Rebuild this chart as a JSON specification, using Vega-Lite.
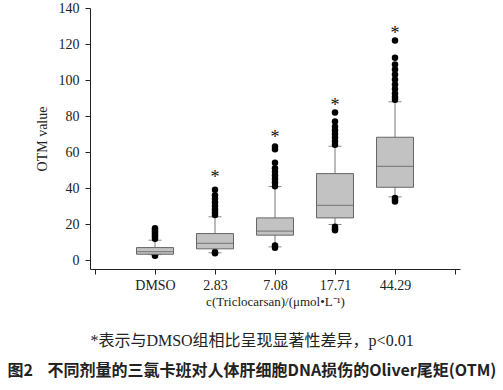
{
  "$schema": "https://vega.github.io/schema/vega-lite/v6.json",
  "width": 370,
  "height": 261,
  "autosize": {"type": "none"},
  "padding": {"left": 90, "top": 8, "right": 43, "bottom": 121},
  "background": "white",
  "config": {
    "view": {"stroke": null},
    "axis": {
      "grid": false,
      "domainColor": "#222",
      "tickColor": "#222",
      "labelColor": "#222",
      "titleColor": "#222",
      "labelFont": "Liberation Serif",
      "titleFont": "Liberation Serif",
      "labelFontSize": 14,
      "titleFontWeight": "normal",
      "tickSize": 5,
      "labelOverlap": false
    }
  },
  "title": {
    "text": "*表示与DMSO组相比呈现显著性差异，p<0.01",
    "subtitle": "图2\u00a0\u00a0\u00a0\u00a0不同剂量的三氯卡班对人体肝细胞DNA损伤的Oliver尾矩(OTM)",
    "orient": "bottom",
    "anchor": "middle",
    "frame": "group",
    "dx": -23,
    "offset": 25,
    "font": "'Liberation Serif', 'Noto Sans CJK SC'",
    "fontSize": 16,
    "fontWeight": "normal",
    "color": "#222",
    "subtitleFont": "'Noto Sans CJK SC'",
    "subtitleFontSize": 16,
    "subtitleFontWeight": "bold",
    "subtitleColor": "#222",
    "subtitlePadding": 14
  },
  "datasets": {
    "boxes": [
      {"x": 1, "label": "DMSO", "lower": 3, "q1": 3.2, "median": 4.7, "q3": 6.9, "upper": 11, "star": null},
      {"x": 2, "label": "2.83", "lower": 4, "q1": 6.2, "median": 9.2, "q3": 14.7, "upper": 24, "star": 48},
      {"x": 3, "label": "7.08", "lower": 7.3, "q1": 13.8, "median": 16, "q3": 23.4, "upper": 40.8, "star": 70},
      {"x": 4, "label": "17.71", "lower": 19.7, "q1": 23.4, "median": 30.3, "q3": 48, "upper": 63.2, "star": 88},
      {"x": 5, "label": "44.29", "lower": 35.1, "q1": 40.4, "median": 52, "q3": 68.2, "upper": 87.9, "star": 128}
    ],
    "outliers": [
      {"x": 1, "v": 11.8}, {"x": 1, "v": 12.8}, {"x": 1, "v": 13.8}, {"x": 1, "v": 14.8}, {"x": 1, "v": 15.8}, {"x": 1, "v": 16.8}, {"x": 1, "v": 17.6},
      {"x": 1, "v": 2.3}, {"x": 1, "v": 2.8},
      {"x": 2, "v": 25}, {"x": 2, "v": 26.5}, {"x": 2, "v": 28}, {"x": 2, "v": 30}, {"x": 2, "v": 32}, {"x": 2, "v": 34}, {"x": 2, "v": 36}, {"x": 2, "v": 39},
      {"x": 2, "v": 3.8}, {"x": 2, "v": 4.5},
      {"x": 3, "v": 41}, {"x": 3, "v": 43}, {"x": 3, "v": 45}, {"x": 3, "v": 47}, {"x": 3, "v": 49}, {"x": 3, "v": 51}, {"x": 3, "v": 54}, {"x": 3, "v": 61.5}, {"x": 3, "v": 63},
      {"x": 3, "v": 6.8}, {"x": 3, "v": 8},
      {"x": 4, "v": 64}, {"x": 4, "v": 66}, {"x": 4, "v": 68}, {"x": 4, "v": 70}, {"x": 4, "v": 72}, {"x": 4, "v": 74}, {"x": 4, "v": 77}, {"x": 4, "v": 82},
      {"x": 4, "v": 16.5}, {"x": 4, "v": 17.5}, {"x": 4, "v": 18.5},
      {"x": 5, "v": 89}, {"x": 5, "v": 90.5}, {"x": 5, "v": 92.5}, {"x": 5, "v": 95}, {"x": 5, "v": 97.5}, {"x": 5, "v": 100.3}, {"x": 5, "v": 103}, {"x": 5, "v": 105.8}, {"x": 5, "v": 108.6}, {"x": 5, "v": 112.3}, {"x": 5, "v": 122},
      {"x": 5, "v": 32.5}, {"x": 5, "v": 33.5}, {"x": 5, "v": 34.5}
    ]
  },
  "layer": [
    {
      "data": {"name": "boxes"},
      "mark": {"type": "rule", "color": "#777", "strokeWidth": 1},
      "encoding": {
        "x": {
          "field": "x", "type": "quantitative",
          "scale": {"domain": [0, 6], "nice": false, "zero": false},
          "axis": {
            "values": [0, 1, 2, 3, 4, 5, 6],
            "tickCount": 12,
            "labelExpr": "datum.value == 1 ? 'DMSO' : datum.value == 2 ? '2.83' : datum.value == 3 ? '7.08' : datum.value == 4 ? '17.71' : datum.value == 5 ? '44.29' : ''",
            "labelPadding": 4,
            "labelFlush": false,
            "labelOverlap": false,
            "title": "c(Triclocarsan)/(μmol•L⁻¹)",
            "titleFontSize": 13,
            "titlePadding": 3
          }
        },
        "y": {
          "field": "lower", "type": "quantitative",
          "scale": {"domain": [-5, 140], "nice": false, "zero": false},
          "axis": {
            "values": [0, 20, 40, 60, 80, 100, 120, 140],
            "tickCount": 12,
            "labelPadding": 6,
            "labelFlush": false,
            "labelOverlap": false,
            "title": "OTM value",
            "titleFontSize": 14,
            "titlePadding": 9
          }
        },
        "y2": {"field": "upper"}
      }
    },
    {
      "data": {"name": "boxes"},
      "mark": {"type": "tick", "orient": "horizontal", "color": "#555", "size": 13, "thickness": 1},
      "encoding": {
        "x": {"field": "x", "type": "quantitative"},
        "y": {"field": "lower", "type": "quantitative"}
      }
    },
    {
      "data": {"name": "boxes"},
      "mark": {"type": "tick", "orient": "horizontal", "color": "#555", "size": 13, "thickness": 1},
      "encoding": {
        "x": {"field": "x", "type": "quantitative"},
        "y": {"field": "upper", "type": "quantitative"}
      }
    },
    {
      "data": {"name": "outliers"},
      "mark": {"type": "point", "filled": true, "color": "#000", "size": 42, "opacity": 1},
      "encoding": {
        "x": {"field": "x", "type": "quantitative"},
        "y": {"field": "v", "type": "quantitative"}
      }
    },
    {
      "data": {"name": "boxes"},
      "mark": {"type": "bar", "size": 37, "fill": "#c2c2c2", "stroke": "#666", "strokeWidth": 1},
      "encoding": {
        "x": {"field": "x", "type": "quantitative"},
        "y": {"field": "q1", "type": "quantitative"},
        "y2": {"field": "q3"}
      }
    },
    {
      "data": {"name": "boxes"},
      "mark": {"type": "tick", "orient": "horizontal", "color": "#666", "size": 37, "thickness": 1.2},
      "encoding": {
        "x": {"field": "x", "type": "quantitative"},
        "y": {"field": "median", "type": "quantitative"}
      }
    },
    {
      "data": {"name": "boxes"},
      "transform": [{"filter": "datum.star != null"}],
      "mark": {"type": "text", "text": "*", "font": "Liberation Serif", "fontSize": 18, "baseline": "middle", "color": "#111", "dy": 4},
      "encoding": {
        "x": {"field": "x", "type": "quantitative"},
        "y": {"field": "star", "type": "quantitative"}
      }
    }
  ]
}
